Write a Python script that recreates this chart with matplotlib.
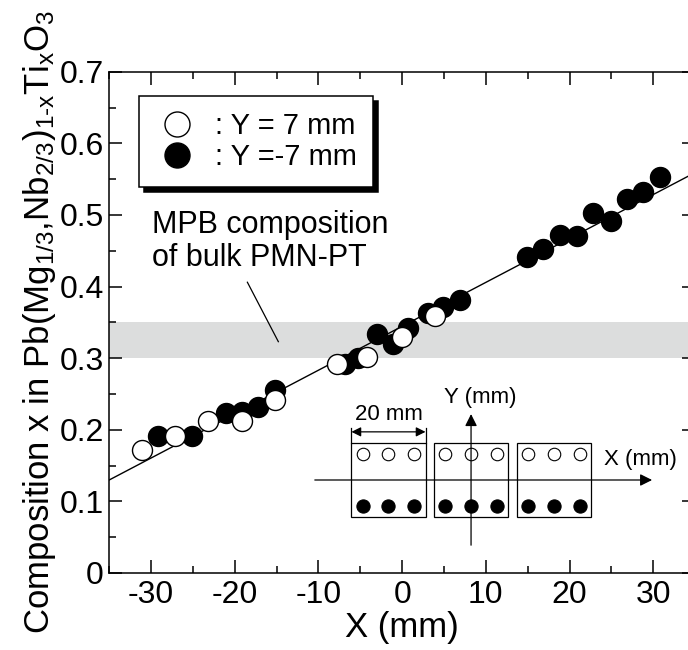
import numpy as np
import matplotlib
matplotlib.use("Agg")
import matplotlib.pyplot as plt
from matplotlib.ticker import MultipleLocator, FuncFormatter
from matplotlib.patches import Rectangle

plt.rcParams["font.family"] = ["Liberation Sans", "DejaVu Sans"]
plt.rcParams["mathtext.fontset"] = "custom"
plt.rcParams["mathtext.rm"] = "Liberation Sans"
plt.rcParams["mathtext.it"] = "Liberation Sans:italic"
plt.rcParams["mathtext.default"] = "regular"
plt.rcParams["axes.unicode_minus"] = False


''' Data '''
open_x = [-31.1, -27.1, -23.2, -19.1, -15.2, -7.8, -4.2, 0.0, 3.9]
open_y = [0.172, 0.191, 0.212, 0.212, 0.242, 0.292, 0.302, 0.330, 0.359]

filled_x = [-29.2, -25.1, -21.1, -19.1, -17.2, -15.2, -6.8, -5.3, -3.0, -1.1, 0.7,
            3.1, 4.9, 6.9, 14.9, 16.8, 18.9, 20.9, 22.8, 24.9, 26.9, 28.8, 30.8]
filled_y = [0.191, 0.191, 0.223, 0.225, 0.232, 0.256, 0.292, 0.300, 0.334, 0.320, 0.342,
            0.363, 0.372, 0.381, 0.441, 0.453, 0.472, 0.471, 0.503, 0.492, 0.522, 0.532, 0.553]

fit_slope = 0.00613
fit_intercept = 0.3445
mpb_range = (0.30, 0.35)

# sample layout for the schematic (mm)
piece_centers = [-22.3, 0.0, 22.3]
piece_size = 20
spot_offsets = [-7, 0, 7]
spot_y = 7


''' Plot '''
fig = plt.figure(figsize=(6.88, 6.5), dpi=100)
ax = fig.add_axes([0.1589, 0.1185, 0.8513, 0.7712])

ax.axhspan(*mpb_range, color="#dcdddd", lw=0, zorder=0)
xl = np.array([-35, 35])
ax.plot(xl, fit_slope * xl + fit_intercept, color="k", lw=1.0, zorder=2)
h_filled, = ax.plot(filled_x, filled_y, "o", ms=14.4, mfc="k", mec="k", mew=1.0,
                    ls="none", zorder=3, label=": Y =-7 mm")
h_open, = ax.plot(open_x, open_y, "o", ms=14.4, mfc="w", mec="k", mew=1.0,
                  ls="none", zorder=4, label=": Y = 7 mm")

ax.set_xlim(-35, 35)
ax.set_ylim(0, 0.7)
ax.xaxis.set_major_locator(MultipleLocator(10))
ax.xaxis.set_minor_locator(MultipleLocator(5))
ax.yaxis.set_major_locator(MultipleLocator(0.1))
ax.yaxis.set_minor_locator(MultipleLocator(0.05))
ax.yaxis.set_major_formatter(FuncFormatter(lambda v, p: "0" if abs(v) < 1e-9 else f"{v:.1f}"))
ax.tick_params(which="both", direction="in", top=True, right=True, width=1.1, labelsize=23)
ax.tick_params(which="major", length=9.4)
ax.tick_params(which="minor", length=5)
ax.tick_params(axis="y", pad=4)
ax.tick_params(axis="x", pad=5)
for s in ax.spines.values():
    s.set_linewidth(1.1)

ax.set_xlabel("X (mm)", fontsize=25, labelpad=1)
ax.set_ylabel(r"Composition x in Pb(Mg$_{1/3}$,Nb$_{2/3}$)$_{1\text{-}x}$Ti$_x$O$_3$",
              fontsize=25, labelpad=1)

ax.text(-29.9, 0.507, "MPB composition\nof bulk PMN-PT", fontsize=22,
        ha="left", va="top", linespacing=1.15)
ax.plot([-18.5, -14.8], [0.406, 0.323], color="k", lw=0.9)

leg = ax.legend(handles=[h_open, h_filled], loc="upper left",
                bbox_to_anchor=(0.0507, 0.9515), borderaxespad=0, fontsize=21,
                fancybox=False, edgecolor="k", framealpha=1,
                shadow={"color": "k", "alpha": 1, "ox": 3.6, "oy": -3.6},
                handlelength=1.5, handletextpad=0.55, borderpad=0.55,
                labelspacing=0.1, markerscale=1.25)
leg.get_frame().set_linewidth(1.1)


''' Schematic inset '''
iax = fig.add_axes([300 / 688, 90 / 650, 388 / 688, 180 / 650])
iax.set_xlim(-46.2, 58.6)
iax.set_ylim(-21.6, 27.0)
iax.axis("off")

for c in piece_centers:
    iax.add_patch(Rectangle((c - piece_size / 2, -piece_size / 2), piece_size, piece_size,
                            fill=False, lw=0.9, ec="k"))
    sx = [c + o for o in spot_offsets]
    iax.plot(sx, [spot_y] * 3, "o", ms=9, mfc="none", mec="k", mew=0.8, ls="none")
    iax.plot(sx, [-spot_y] * 3, "o", ms=9.5, mfc="k", mec="k", mew=0.8, ls="none")

arrow = dict(arrowstyle="-|>", color="k", lw=0.9, mutation_scale=18, shrinkA=0, shrinkB=0)
iax.annotate("", xy=(48.9, 0), xytext=(-42.2, 0), arrowprops=arrow)
iax.annotate("", xy=(0, 17.8), xytext=(0, -17.6), arrowprops=arrow)

left = piece_centers[0] - piece_size / 2
right = piece_centers[0] + piece_size / 2
iax.plot([left, left], [10, 14], color="k", lw=0.9)
iax.plot([right, right], [10, 14], color="k", lw=0.9)
iax.annotate("", xy=(left, 13), xytext=(right, 13),
             arrowprops=dict(arrowstyle="<|-|>", color="k", lw=0.9, mutation_scale=14,
                             shrinkA=0, shrinkB=0))
iax.text(piece_centers[0], 17.6, "20 mm", fontsize=16, ha="center", va="center")
iax.text(2.4, 22.2, "Y (mm)", fontsize=16, ha="center", va="center")
iax.text(45.8, 5.4, "X (mm)", fontsize=16, ha="center", va="center")

fig.savefig("out.png", dpi=100)
